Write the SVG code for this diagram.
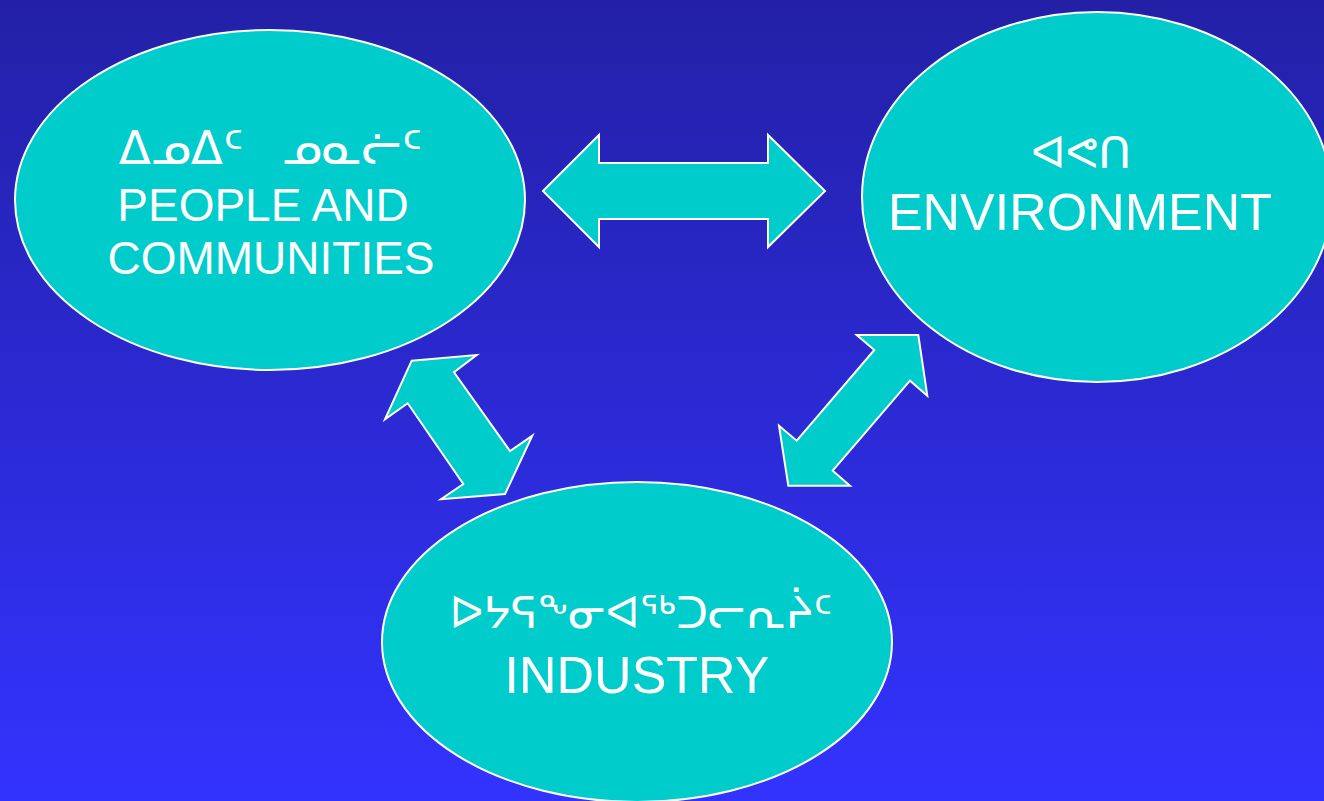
<svg xmlns="http://www.w3.org/2000/svg" width="1324" height="801" viewBox="0 0 1324 801">
  <defs>
    <linearGradient id="bg" x1="0" y1="0" x2="0" y2="1">
      <stop offset="0" stop-color="#2320A6"/>
      <stop offset="1" stop-color="#3333FF"/>
    </linearGradient>
    <style>
      .node { fill: #00CCCC; stroke: #FFFFFF; stroke-width: 2; }
      .arrow { fill: #00CCCC; stroke: #FFFFFF; stroke-width: 2; stroke-linejoin: miter; }
      .lbl { fill: #FFFFFF; font-family: "Liberation Sans", Arial, sans-serif; text-anchor: middle; }
      .syl { fill: #FFFFFF; font-family: "DejaVu Sans", "Noto Sans", sans-serif; text-anchor: middle; }
    </style>
  </defs>
  <rect x="0" y="0" width="1324" height="801" fill="url(#bg)"/>

  <g id="connectors">
    <polygon class="arrow" points="543,191 599,135 599,163 768,163 768,135 825,191 768,247 768,219 599,219 599,247"/>
    <polygon class="arrow" points="411.7,360.7 476.7,355 454,372.3 510,451 532.3,435.7 505,494 441,499.3 463.3,484 407.7,403.3 385,419.3"/>
    <polygon class="arrow" points="856.7,335 918.3,335 927.3,395.7 910,380.7 832.7,470.7 850,485.7 788.3,485.7 779,425.7 796.7,440.7 874.3,350"/>
  </g>

  <g id="people">
    <ellipse class="node" cx="270" cy="200" rx="255" ry="170"/>
    <text class="syl" y="164" font-size="47"><tspan x="181">ᐃᓄᐃᑦ</tspan><tspan x="352">ᓄᓇᓖᑦ</tspan></text>
    <text class="lbl" x="263" y="221" font-size="46">PEOPLE AND</text>
    <text class="lbl" x="271" y="274" font-size="46">COMMUNITIES</text>
  </g>

  <g id="environment">
    <ellipse class="node" cx="1097" cy="197" rx="235" ry="185"/>
    <text class="syl" x="1081" y="168" font-size="45">ᐊᕙᑎ</text>
    <text class="lbl" x="1080" y="230" font-size="52">ENVIRONMENT</text>
  </g>

  <g id="industry">
    <ellipse class="node" cx="637" cy="642" rx="255" ry="160"/>
    <text class="syl" x="641" y="628" font-size="44">ᐅᔭᕋᖕᓂᐊᖅᑐᓕᕆᔩᑦ</text>
    <text class="lbl" x="637" y="693" font-size="52">INDUSTRY</text>
  </g>
</svg>
